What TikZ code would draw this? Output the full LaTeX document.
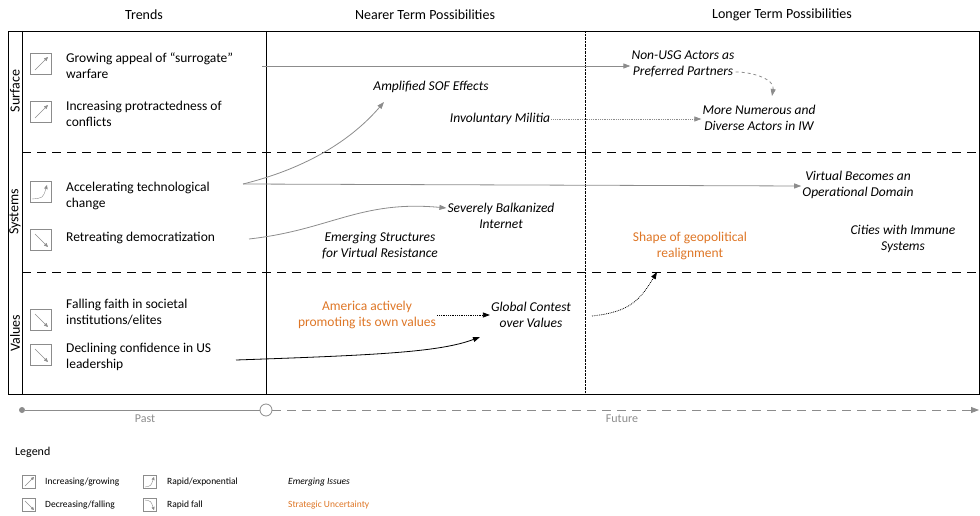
\documentclass[tikz,border=0pt]{standalone}
\usepackage{fontspec}
\setmainfont{Carlito}
\usetikzlibrary{arrows.meta}
\definecolor{orng}{RGB}{222,118,38}
\definecolor{gr}{RGB}{140,140,140}
\begin{document}
\begin{tikzpicture}[x=1pt,y=-1pt,
  lbl/.style={font=\fontsize{13.5}{16}\selectfont,align=left,anchor=west,inner sep=0},
  emr/.style={font=\fontsize{13.5}{16}\selectfont\itshape,align=center,inner sep=1pt},
  unc/.style={font=\fontsize{13.5}{16}\selectfont,align=center,text=orng,inner sep=1pt},
  hdr/.style={font=\fontsize{14}{16}\selectfont,inner sep=0},
  ico/.style={draw=gr,thick,minimum size=21pt,inner sep=0},
  sico/.style={draw=gr,thick,minimum size=13pt,inner sep=0},
  ga/.style={gr,thick,-{Triangle[length=7pt,width=5pt]}},
  leg/.style={font=\fontsize{9.5}{11}\selectfont,anchor=west,inner sep=0}]
\useasboundingbox (0,0) rectangle (980,516);
% frame
\draw[thick] (8,31) rectangle (979,394);
\draw[thick] (22,31) -- (22,394);
\draw[thick] (266,31) -- (266,394);
\draw[densely dotted] (585,31) -- (585,394);
\draw[thick,dash pattern=on 9pt off 6pt] (22,152) -- (979,152);
\draw[thick,dash pattern=on 9pt off 6pt] (22,272) -- (979,272);
\node[hdr] (h1) at (144,15) {Trends};
\node[hdr] (h2) at (425,15) {Nearer Term Possibilities};
\node[hdr] (h3) at (782,15) {Longer Term Possibilities};
\node[hdr,rotate=90] (s1) at (15,91) {Surface};
\node[hdr,rotate=90] (s2) at (15,212) {Systems};
\node[hdr,rotate=90] (s3) at (15,333) {Values};
% icons
\foreach \n/\y/\k in {i1/64/u,i2/112/u,i3/192/e,i4/240/d,i5/320/d,i6/355/d}{
  \node[ico] (\n) at (41,\y) {};
}
\foreach \n in {i1,i2}{\draw[gr,-{Triangle[length=4pt,width=3.5pt]}] ([shift={(-6,6)}]\n.center) -- ([shift={(7,-7)}]\n.center);}
\foreach \n in {i4,i5,i6}{\draw[gr,-{Triangle[length=4pt,width=3.5pt]}] ([shift={(-6,-6)}]\n.center) -- ([shift={(7,7)}]\n.center);}
\draw[gr,-{Triangle[length=4pt,width=3.5pt]}] ([shift={(-9,7)}]i3.center) .. controls ([shift={(2,6)}]i3.center) .. ([shift={(6,-7)}]i3.center);
% trend labels
\node[lbl] (t1) at (66,66) {Growing appeal of “surrogate”\\warfare};
\node[lbl] (t2) at (66,114) {Increasing protractedness of\\conflicts};
\node[lbl] (t3) at (66,196) {Accelerating technological\\change};
\node[lbl] (t4) at (66,238) {Retreating democratization};
\node[lbl] (t5) at (66,312) {Falling faith in societal\\institutions/elites};
\node[lbl] (t6) at (66,357) {Declining confidence in US\\leadership};
% possibilities
\node[emr] (n1) at (683,64) {Non-USG Actors as\\Preferred Partners};
\node[emr] (n2) at (759,118) {More Numerous and\\Diverse Actors in IW};
\node[emr] (n3) at (431,87) {Amplified SOF Effects};
\node[emr] (n4) at (500,119) {Involuntary Militia};
\node[emr] (n5) at (858,185) {Virtual Becomes an\\Operational Domain};
\node[emr] (n6) at (501,216) {Severely Balkanized\\Internet};
\node[emr] (n7) at (380,246) {Emerging Structures\\for Virtual Resistance};
\node[unc] (n8) at (690,246) {Shape of geopolitical\\realignment};
\node[emr] (n9) at (903,239) {Cities with Immune\\Systems};
\node[unc] (n10) at (367,315) {America actively\\promoting its own values};
\node[emr] (n11) at (531,315) {Global Contest\\over Values};
% connectors
\coordinate (a1) at (262,66);
\draw[ga] (a1) -- (n1.west |- a1);
\draw[gr,thick,dashed,-{Triangle[length=7pt,width=5pt]}] (n1.east |- 0,72) to[out=0,in=80] (772,96);
\draw[gr,thick,densely dotted,-{Triangle[length=7pt,width=5pt]}] (n4.east) -- (n2.west |- n4.east);
\coordinate (a3) at (243,184);
\draw[ga] (a3) .. controls (320,165) and (360,130) .. (384,102);
\draw[ga] (a3) -- (n5.west |- 0,186);
\draw[ga] (249,239) .. controls (330,230) and (360,200) .. (n6.west |- 0,208);
\draw[thick,densely dotted,-{Triangle[length=7pt,width=5pt]}] (n10.east |- n11) -- (n11.west |- n11);
\draw[thick,-{Triangle[length=7pt,width=5pt]}] (236,360) .. controls (380,355) and (440,352) .. (480,337);
\draw[thick,densely dotted,-{Triangle[length=7pt,width=5pt]}] (592,316) .. controls (630,312) and (640,300) .. (657,272);
% timeline
\node[circle,fill=gr,inner sep=0,minimum size=6pt] (p0) at (22,410) {};
\node[circle,draw=gr,thick,fill=white,inner sep=0,minimum size=12pt] (p1) at (266,410) {};
\coordinate (p2) at (979,410);
\draw[gr,thick] (p0) -- (p1);
\draw[gr,thick,dash pattern=on 9pt off 6pt,-{Triangle[length=8pt,width=6pt]}] (p1) -- (p2);
\node[font=\fontsize{12}{14}\selectfont,text=gr] (past) at (145,419) {Past};
\node[font=\fontsize{12}{14}\selectfont,text=gr] (fut) at (622,419) {Future};
% legend
\node[font=\fontsize{12}{14}\selectfont,anchor=west,inner sep=0] (lg) at (15,452) {Legend};
\node[sico] (l1) at (29,482) {};
\node[sico] (l2) at (29,505) {};
\node[sico] (l3) at (150,482) {};
\node[sico] (l4) at (150,505) {};
\draw[gr,-{Triangle[length=3pt,width=3pt]}] ([shift={(-4,4)}]l1.center) -- ([shift={(5,-5)}]l1.center);
\draw[gr,-{Triangle[length=3pt,width=3pt]}] ([shift={(-4,-4)}]l2.center) -- ([shift={(5,5)}]l2.center);
\draw[gr,-{Triangle[length=3pt,width=3pt]}] ([shift={(-5,5)}]l3.center) .. controls ([shift={(1,4)}]l3.center) .. ([shift={(4,-5)}]l3.center);
\draw[gr,-{Triangle[length=3pt,width=3pt]}] ([shift={(-5,-5)}]l4.center) .. controls ([shift={(1,-4)}]l4.center) .. ([shift={(4,5)}]l4.center);
\node[leg] (lt1) at (45,482) {Increasing/growing};
\node[leg] (lt2) at (45,505) {Decreasing/falling};
\node[leg] (lt3) at (167,482) {Rapid/exponential};
\node[leg] (lt4) at (167,505) {Rapid fall};
\node[leg,font=\fontsize{9.5}{11}\selectfont\itshape] (lt5) at (288,482) {Emerging Issues};
\node[leg,text=orng] (lt6) at (288,505) {Strategic Uncertainty};
\end{tikzpicture}
\end{document}
